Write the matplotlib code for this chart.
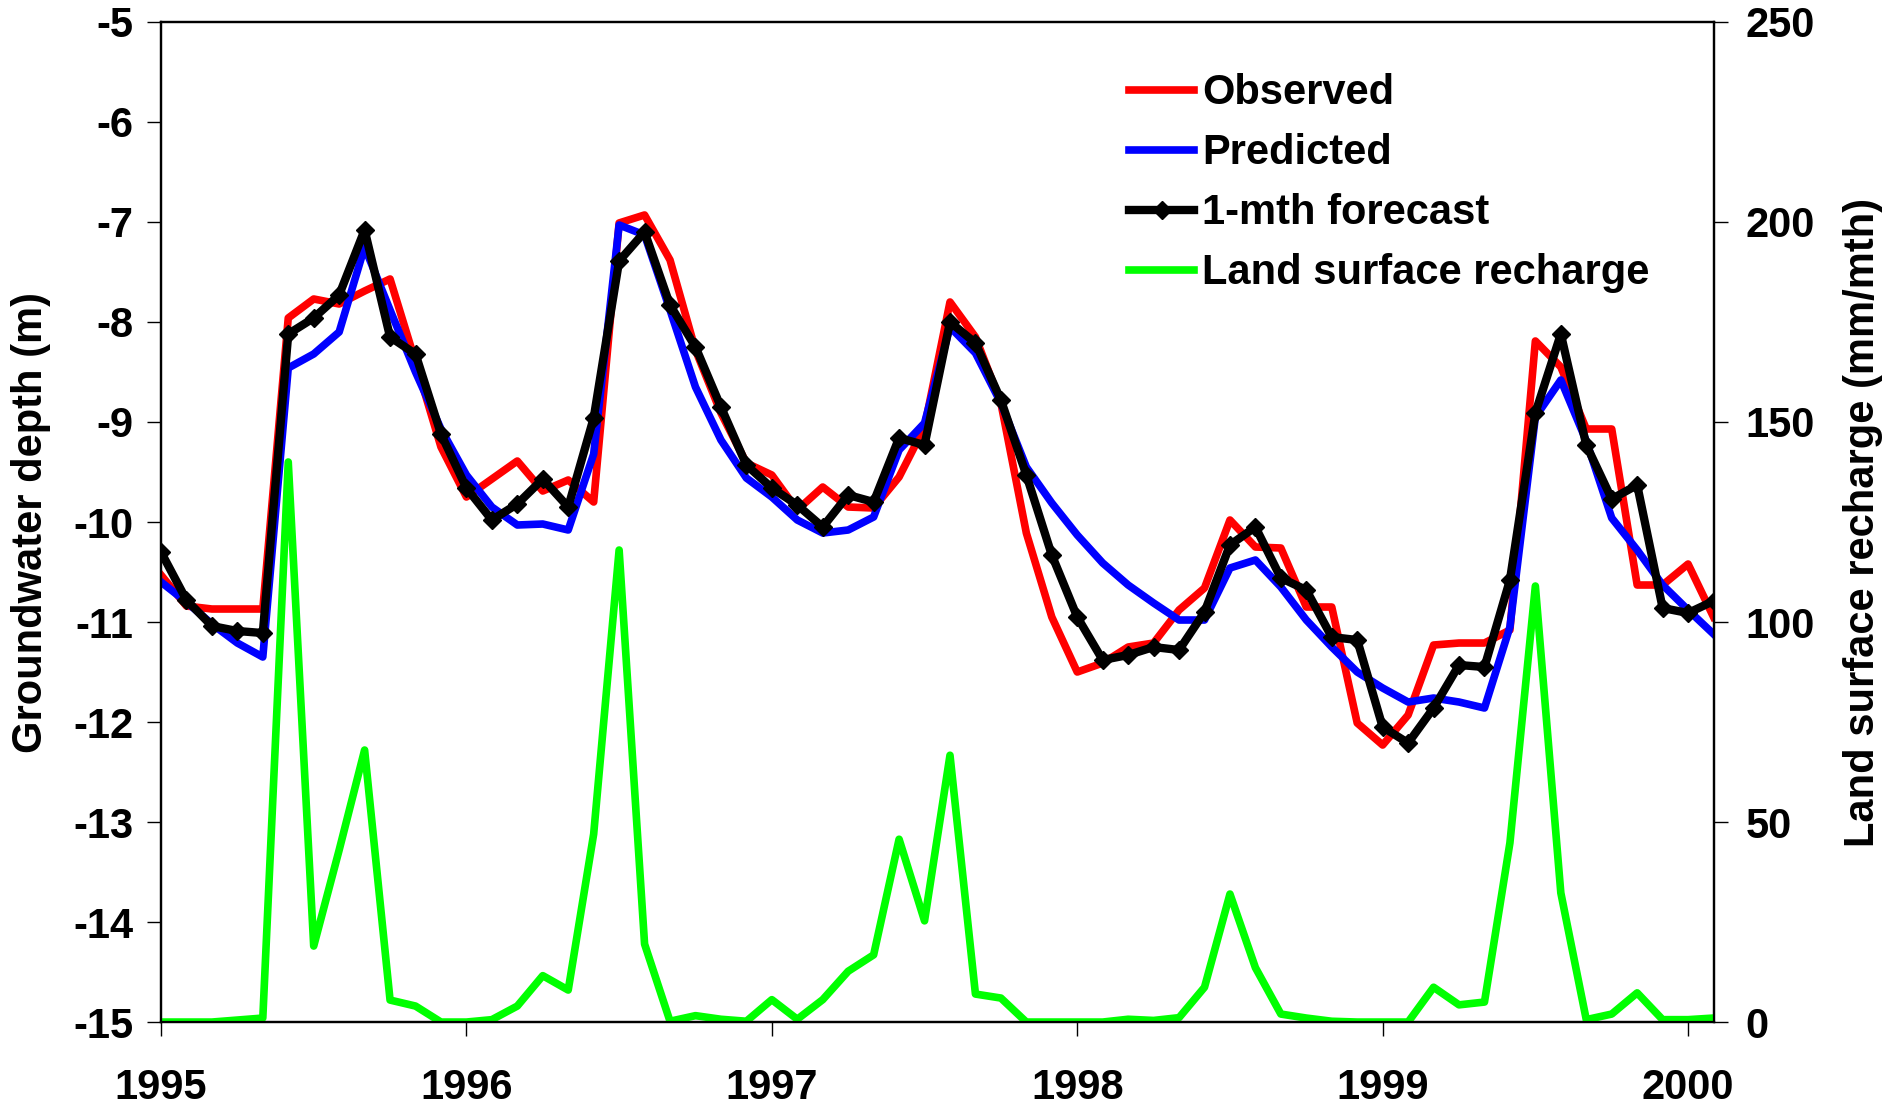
import numpy as np
import matplotlib
matplotlib.use("Agg")
import matplotlib.pyplot as plt

# monthly series, Jan 1995 .. Feb 2000
start_year = 1995
n_months = 62

observed = [-10.53, -10.84, -10.87, -10.87, -10.87, -7.96, -7.77, -7.82, -7.69, -7.57,
            -8.40, -9.25, -9.75, -9.57, -9.39, -9.69, -9.58, -9.80, -7.01, -6.93,
            -7.38, -8.28, -8.91, -9.41, -9.53, -9.88, -9.65, -9.85, -9.86, -9.55,
            -9.05, -7.80, -8.15, -8.81, -10.11, -10.95, -11.50, -11.41, -11.25, -11.21,
            -10.88, -10.66, -9.98, -10.25, -10.26, -10.85, -10.85, -12.01, -12.23, -11.93,
            -11.23, -11.21, -11.21, -11.08, -8.19, -8.45, -9.07, -9.07, -10.63, -10.63,
            -10.42, -10.95]

predicted = [-10.60, -10.80, -11.02, -11.21, -11.35, -8.46, -8.32, -8.10, -7.25, -7.88,
             -8.50, -9.07, -9.53, -9.85, -10.03, -10.02, -10.08, -9.32, -7.03, -7.13,
             -7.88, -8.65, -9.18, -9.56, -9.75, -9.98, -10.11, -10.08, -9.95, -9.28,
             -9.01, -8.05, -8.31, -8.81, -9.45, -9.81, -10.13, -10.41, -10.63, -10.81,
             -10.98, -10.98, -10.46, -10.38, -10.65, -10.98, -11.25, -11.50, -11.66, -11.80,
             -11.76, -11.80, -11.86, -11.05, -8.95, -8.58, -9.19, -9.96, -10.28, -10.63,
             -10.88, -11.12]

forecast = [-10.30, -10.78, -11.04, -11.09, -11.11, -8.12, -7.96, -7.73, -7.08, -8.15,
            -8.32, -9.12, -9.66, -9.98, -9.82, -9.57, -9.85, -8.96, -7.39, -7.10,
            -7.83, -8.25, -8.85, -9.43, -9.66, -9.83, -10.05, -9.73, -9.80, -9.16,
            -9.23, -8.00, -8.21, -8.78, -9.53, -10.33, -10.95, -11.38, -11.33, -11.25,
            -11.28, -10.90, -10.23, -10.05, -10.56, -10.68, -11.15, -11.18, -12.05, -12.21,
            -11.86, -11.43, -11.45, -10.58, -8.91, -8.12, -9.23, -9.77, -9.63, -10.86,
            -10.91, -10.79]

recharge = [0, 0, 0, 0.5, 1, 140, 19, 43, 68, 5.5,
            4, 0, 0, 0.6, 4, 11.6, 8, 47, 118, 19.5,
            0.2, 1.6, 0.7, 0.2, 5.6, 0.7, 5.6, 12.7, 16.8, 45.7,
            25.3, 66.7, 7, 6, 0, 0, 0, 0, 0.7, 0.4,
            1.1, 8.7, 32, 13.6, 2, 1, 0.2, 0, 0, 0,
            8.7, 4.3, 5, 44.8, 109, 32.3, 0.6, 2, 7.3, 0.6,
            0.6, 1]

years = [1995, 1996, 1997, 1998, 1999, 2000]
depth_ticks = list(range(-15, -4))
recharge_ticks = [0, 50, 100, 150, 200, 250]


def main():
    plt.rcParams['font.family'] = ['Liberation Sans', 'DejaVu Sans']
    plt.rcParams['font.weight'] = 'bold'
    plt.rcParams['font.size'] = 30
    plt.rcParams['axes.unicode_minus'] = False

    t = start_year + np.arange(n_months) / 12.0

    fig = plt.figure(figsize=(18.83, 11.09), dpi=100)
    ax = fig.add_axes([0.0855, 0.0784, 0.8245, 0.9018])
    ax2 = ax.twinx()

    l1, = ax.plot(t, observed, color='#ff0000', lw=5.5, label='Observed')
    l2, = ax.plot(t, predicted, color='#0000ff', lw=5.5, label='Predicted')
    l3, = ax.plot(t, forecast, color='black', lw=6, marker='D', ms=9,
                  label='1-mth forecast')
    l4, = ax2.plot(t, recharge, color='#00ff00', lw=5.5,
                   label='Land surface recharge')

    ax.set_xlim(start_year, start_year + (n_months - 1) / 12.0)
    ax.set_ylim(-15, -5)
    ax2.set_ylim(0, 250)
    ax.set_xticks(years)
    ax.set_yticks(depth_ticks)
    ax2.set_yticks(recharge_ticks)

    ax.set_ylabel('Groundwater depth (m)', fontweight='bold', labelpad=16)
    ax2.set_ylabel('Land surface recharge (mm/mth)', fontweight='bold', labelpad=20)

    for a in (ax, ax2):
        for s in a.spines.values():
            s.set_linewidth(1.6)
    ax.tick_params(axis='x', direction='out', length=10, width=1, pad=23)
    ax.tick_params(axis='y', direction='out', length=10, width=1, pad=10)
    ax2.tick_params(axis='y', direction='out', length=10, width=1, pad=13)

    ax2.legend(handles=[l1, l2, l3, l4], loc='upper left',
               bbox_to_anchor=(0.6237, 0.9486), frameon=False, borderpad=0,
               borderaxespad=0, handlelength=1.55, handletextpad=0.2,
               labelspacing=0.48, numpoints=1, fontsize=30)

    fig.savefig('out.png', dpi=100)


if __name__ == '__main__':
    main()
